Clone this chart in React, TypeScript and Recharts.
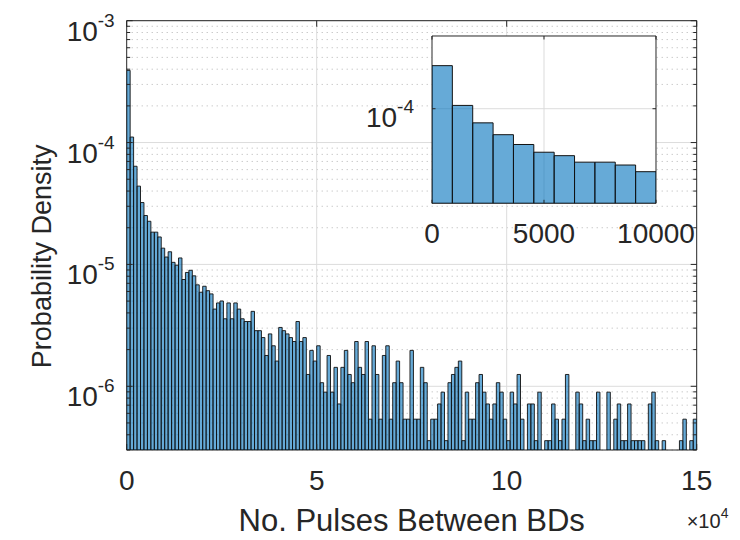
import React from 'react';
import { BarChart, Bar, XAxis, YAxis, CartesianGrid, ReferenceArea, Label } from 'recharts';

// ---------- data ----------
const BIN_WIDTH = 10000 / 11; // histogram bin width (No. pulses)
const X_MAX = 150000;
const Y_MIN = 3e-7;
const Y_MAX = 1e-3;

// probability density of each bin, left to right (null = bar below axis floor)
const DENSITY: (number | null)[] = [
  3.91e-4, 1.11e-4, 6.39e-5, 4.39e-5, 3.22e-5, 2.52e-5, 2.26e-5, 1.84e-5, 1.84e-5, 1.68e-5,
  1.36e-5, 1.15e-5, 1.27e-5, 1.04e-5, 9.85e-6, 1.13e-5, 7.52e-6, 8.59e-6, 8.95e-6, 8.06e-6,
  6.8e-6, 5.91e-6, 6.62e-6, 6.09e-6, 5.73e-6, 4.3e-6, 4.83e-6, 5.01e-6, 3.58e-6, 4.83e-6,
  3.58e-6, 4.83e-6, 4.3e-6, 3.58e-6, 3.4e-6, 3.4e-6, 4.12e-6, 2.86e-6, 2.86e-6, 2.51e-6,
  1.79e-6, 2.69e-6, 2.15e-6, 1.61e-6, 3.04e-6, 2.86e-6, 2.69e-6, 2.51e-6, 2.33e-6, 3.4e-6,
  2.33e-6, 2.51e-6, 1.25e-6, 1.97e-6, 1.61e-6, 2.15e-6, 1.07e-6, 8.95e-7, 1.79e-6, 8.95e-7,
  1.43e-6, 7.16e-7, 1.43e-6, 1.97e-6, 1.25e-6, 1.07e-6, 2.33e-6, 1.43e-6, 1.25e-6, 2.33e-6,
  5.37e-7, 2.15e-6, 1.25e-6, 5.37e-7, 1.79e-6, 2.15e-6, 5.37e-7, 1.07e-6, 1.61e-6, 1.07e-6,
  5.37e-7, 5.37e-7, 1.97e-6, 5.37e-7, 5.37e-7, 1.43e-6, 1.07e-6, 3.58e-7, 5.37e-7, 5.37e-7,
  7.16e-7, 8.95e-7, 3.58e-7, 1.07e-6, 1.25e-6, 1.43e-6, 1.61e-6, 3.58e-7, 8.95e-7, 5.37e-7,
  5.37e-7, 1.07e-6, 1.25e-6, 8.95e-7, 7.16e-7, 5.37e-7, 7.16e-7, 1.07e-6, 8.95e-7, 5.37e-7,
  3.58e-7, 8.95e-7, 7.16e-7, 1.25e-6, 5.37e-7, null, 7.16e-7, 7.16e-7, 3.58e-7, 8.95e-7,
  null, 3.58e-7, 3.58e-7, 7.16e-7, 5.37e-7, 3.58e-7, 5.37e-7, 1.25e-6, null, null,
  8.95e-7, 7.16e-7, 3.58e-7, 5.37e-7, 3.58e-7, 3.58e-7, 8.95e-7, null, null, 8.95e-7,
  null, 5.37e-7, 7.16e-7, 3.58e-7, 3.58e-7, 7.16e-7, 3.58e-7, 3.58e-7, 3.58e-7, 3.58e-7,
  null, 7.16e-7, 8.95e-7, 3.58e-7, null, 3.58e-7, null, null, null, null,
  3.58e-7, 5.37e-7, null, 3.58e-7, 5.37e-7,
];

const X_TICKS = [0, 50000, 100000, 150000];
const X_TICK_LABELS = ['0', '5', '10', '15'];
const X_MULTIPLIER_EXP = '4';
const Y_TICKS = [1e-6, 1e-5, 1e-4, 1e-3];
const Y_TICK_EXPONENTS = ['-6', '-5', '-4', '-3'];
const Y_MINOR_MANTISSAS = [2, 3, 4, 5, 6, 7, 8, 9];
const Y_MINOR_DECADES = [1e-7, 1e-6, 1e-5, 1e-4];
const X_MAJOR_GRID = [50000, 100000];

const INSET_BINS = 11;
const INSET_X_MAX = 10000;
const INSET_Y_MIN = 5e-6;
const INSET_Y_MAX = 1e-3;
const INSET_X_TICKS = [0, 5000, 10000];
const INSET_X_TICK_LABELS = ['0', '5000', '10000'];
const INSET_X_GRID = [5000];
const INSET_Y_TICKS = [1e-4];
const INSET_Y_TICK_EXPONENTS = ['-4'];

const AXIS_LABEL_X = 'No. Pulses Between BDs';
const AXIS_LABEL_Y = 'Probability Density';

// ---------- derived tables ----------
const mainData = DENSITY.map((d, i) => ({ x: (i + 0.5) * BIN_WIDTH, y: d }));
const insetData = mainData.slice(0, INSET_BINS);
const Y_MINOR = Y_MINOR_DECADES.flatMap((d) => Y_MINOR_MANTISSAS.map((m) => m * d)).filter(
  (v) => v >= Y_MIN * 0.999 && v < Y_MAX
);

// ---------- styling / layout ----------
const FONT = '"Liberation Sans", Arial, Helvetica, sans-serif';
const INK = '#262626';
const BAR_FILL = '#0072BD';
const BAR_EDGE = '#111111';
const MAJOR_GRID = '#dcdcdc';
const MINOR_GRID = '#b4b4b4';
const TICK_FS = 28;
const SUP_FS = 19;
const XLABEL_FS = 31;
const YLABEL_FS = 27;

const W = 732;
const H = 532;
const PLOT = { left: 118.7, top: 12.7, width: 570, height: 429.3 };
const X_AXIS_H = H - PLOT.top - PLOT.height;

const IW = 334;
const IPLOT = { left: 70, top: 5, width: 224, height: 167.3 };
const IH = 222.3;
const IX_AXIS_H = IH - IPLOT.top - IPLOT.height;

// ---------- tick renderers ----------
const MainXTick = (p: any) => {
  const { x, y, payload } = p;
  const i = X_TICKS.indexOf(payload.value);
  return (
    <g>
      <line x1={x} x2={x} y1={y} y2={y - 6} stroke={INK} strokeWidth={1} />
      <line x1={x} x2={x} y1={y - PLOT.height} y2={y - PLOT.height + 6} stroke={INK} strokeWidth={1} />
      <text x={x} y={y + 40} textAnchor="middle" fontSize={TICK_FS} fill={INK} fontFamily={FONT}>
        {X_TICK_LABELS[i]}
      </text>
    </g>
  );
};

const MainYTick = (p: any) => {
  const { x, y, payload } = p;
  const i = Y_TICKS.indexOf(payload.value);
  const major = i >= 0;
  const len = major ? 6 : 3.5;
  return (
    <g>
      <line x1={x} x2={x + len} y1={y} y2={y} stroke={INK} strokeWidth={1} />
      <line x1={x + PLOT.width} x2={x + PLOT.width - len} y1={y} y2={y} stroke={INK} strokeWidth={1} />
      {major && (
        <text x={x - 12} y={y + 20} textAnchor="end" fontSize={TICK_FS} fill={INK} fontFamily={FONT}>
          <tspan>10</tspan>
          <tspan dy={-14} fontSize={SUP_FS}>{Y_TICK_EXPONENTS[i]}</tspan>
        </text>
      )}
    </g>
  );
};

const InsetXTick = (p: any) => {
  const { x, y, payload } = p;
  const i = INSET_X_TICKS.indexOf(payload.value);
  return (
    <g>
      <line x1={x} x2={x} y1={y} y2={y - 3.5} stroke={INK} strokeWidth={1} />
      <line x1={x} x2={x} y1={y - IPLOT.height} y2={y - IPLOT.height + 3.5} stroke={INK} strokeWidth={1} />
      <text x={x} y={y + 40} textAnchor="middle" fontSize={TICK_FS} fill={INK} fontFamily={FONT}>
        {INSET_X_TICK_LABELS[i]}
      </text>
    </g>
  );
};

const InsetYTick = (p: any) => {
  const { x, y, payload } = p;
  const i = INSET_Y_TICKS.indexOf(payload.value);
  return (
    <g>
      <line x1={x} x2={x + 3.5} y1={y} y2={y} stroke={INK} strokeWidth={1} />
      <line x1={x + IPLOT.width} x2={x + IPLOT.width - 3.5} y1={y} y2={y} stroke={INK} strokeWidth={1} />
      <text x={x - 18} y={y + 18} textAnchor="end" fontSize={TICK_FS} fill={INK} fontFamily={FONT}>
        <tspan>10</tspan>
        <tspan dy={-14} fontSize={SUP_FS}>{INSET_Y_TICK_EXPONENTS[i]}</tspan>
      </text>
    </g>
  );
};

// ---------- axis labels ----------
const MainXLabel = (p: any) => {
  const vb = p.viewBox || { x: PLOT.left, y: PLOT.top + PLOT.height, width: PLOT.width, height: X_AXIS_H };
  return (
    <g>
      <text
        x={vb.x + vb.width / 2}
        y={vb.y + 81}
        textAnchor="middle"
        fontSize={XLABEL_FS}
        fill={INK}
        fontFamily={FONT}
      >
        {AXIS_LABEL_X}
      </text>
      <text x={vb.x + vb.width - 10} y={vb.y + 78} fontSize={20} fill={INK} fontFamily={FONT}>
        <tspan>{'\u00d710'}</tspan>
        <tspan dy={-10} fontSize={14}>{X_MULTIPLIER_EXP}</tspan>
      </text>
    </g>
  );
};

const MainYLabel = (p: any) => {
  const vb = p.viewBox || { x: 0, y: PLOT.top, width: PLOT.left, height: PLOT.height };
  const cx = vb.x + 43;
  const cy = vb.y + vb.height / 2 + 21;
  return (
    <text
      x={cx}
      y={cy}
      transform={`rotate(-90, ${cx}, ${cy})`}
      textAnchor="middle"
      fontSize={YLABEL_FS}
      fill={INK}
      fontFamily={FONT}
    >
      {AXIS_LABEL_Y}
    </text>
  );
};

// ---------- charts ----------
const MainChart = () => (
  <BarChart
    width={W}
    height={H}
    data={mainData}
    margin={{ top: PLOT.top, right: W - PLOT.left - PLOT.width, bottom: 0, left: 0 }}
    barCategoryGap={0}
    barGap={0}
  >
    <CartesianGrid
      horizontalValues={Y_MINOR}
      vertical={false}
      stroke={MINOR_GRID}
      strokeDasharray="1 4"
    />
    <CartesianGrid horizontalValues={Y_TICKS} verticalValues={X_MAJOR_GRID} stroke={MAJOR_GRID} />
    <XAxis
      type="number"
      dataKey="x"
      domain={[0, X_MAX]}
      allowDataOverflow
      ticks={X_TICKS}
      interval={0}
      tickSize={0}
      tickMargin={0}
      height={X_AXIS_H}
      axisLine={false}
      tickLine={false}
      tick={(p: any) => <MainXTick {...p} />}
    >
      <Label content={MainXLabel} />
    </XAxis>
    <YAxis
      type="number"
      scale="log"
      domain={[Y_MIN, Y_MAX]}
      allowDataOverflow
      ticks={[...Y_TICKS, ...Y_MINOR]}
      interval={0}
      tickSize={0}
      tickMargin={0}
      width={PLOT.left}
      axisLine={false}
      tickLine={false}
      tick={(p: any) => <MainYTick {...p} />}
    >
      <Label content={MainYLabel} />
    </YAxis>
    <Bar
      dataKey="y"
      fill={BAR_FILL}
      fillOpacity={0.6}
      stroke={BAR_EDGE}
      strokeWidth={0.9}
      barSize={PLOT.width / DENSITY.length - 0.005}
      isAnimationActive={false}
    />
    <ReferenceArea
      x1={0}
      x2={X_MAX}
      y1={Y_MIN}
      y2={Y_MAX}
      fill="none"
      fillOpacity={0}
      stroke={INK}
      strokeWidth={1}
      ifOverflow="visible"
    />
  </BarChart>
);

const InsetChart = () => (
  <BarChart
    width={IW}
    height={IH}
    data={insetData}
    margin={{ top: IPLOT.top, right: IW - IPLOT.left - IPLOT.width, bottom: 0, left: 0 }}
    barCategoryGap={0}
    barGap={0}
  >
    <CartesianGrid
      fill="#ffffff"
      fillOpacity={1}
      horizontalValues={INSET_Y_TICKS}
      verticalValues={INSET_X_GRID}
      stroke={MAJOR_GRID}
    />
    <XAxis
      type="number"
      dataKey="x"
      domain={[0, INSET_X_MAX]}
      allowDataOverflow
      ticks={INSET_X_TICKS}
      interval={0}
      tickSize={0}
      tickMargin={0}
      height={IX_AXIS_H}
      axisLine={false}
      tickLine={false}
      tick={(p: any) => <InsetXTick {...p} />}
    />
    <YAxis
      type="number"
      scale="log"
      domain={[INSET_Y_MIN, INSET_Y_MAX]}
      allowDataOverflow
      ticks={INSET_Y_TICKS}
      interval={0}
      tickSize={0}
      tickMargin={0}
      width={IPLOT.left}
      axisLine={false}
      tickLine={false}
      tick={(p: any) => <InsetYTick {...p} />}
    />
    <Bar
      dataKey="y"
      fill={BAR_FILL}
      fillOpacity={0.6}
      stroke={BAR_EDGE}
      strokeWidth={1}
      barSize={IPLOT.width / INSET_BINS - 0.01}
      isAnimationActive={false}
    />
    <ReferenceArea
      x1={0}
      x2={INSET_X_MAX}
      y1={INSET_Y_MIN}
      y2={INSET_Y_MAX}
      fill="none"
      fillOpacity={0}
      stroke={INK}
      strokeWidth={1}
      ifOverflow="visible"
    />
  </BarChart>
);

export default function App() {
  return (
    <div style={{ position: 'relative', width: W, height: H, background: '#ffffff', fontFamily: FONT }}>
      <MainChart />
      <div style={{ position: 'absolute', left: 432 - 8 - IPLOT.left, top: 35.7 - 8 - IPLOT.top }}>
        <InsetChart />
      </div>
    </div>
  );
}
